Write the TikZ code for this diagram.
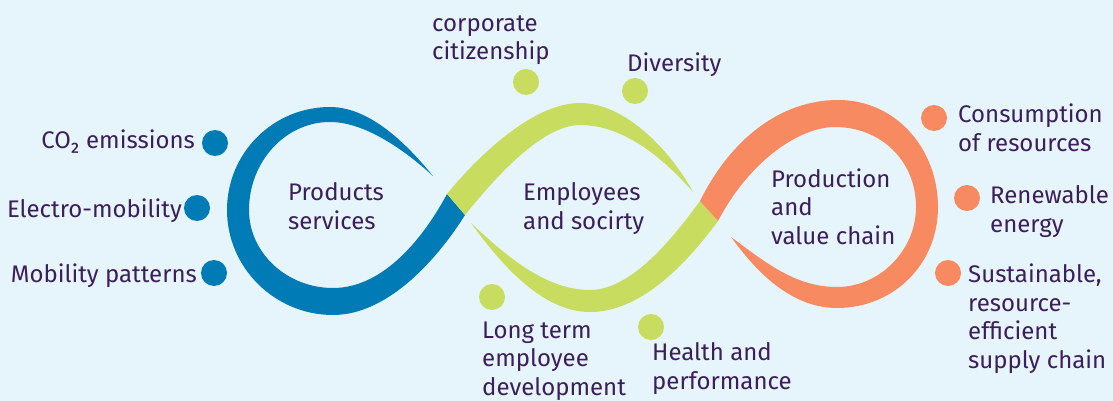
\documentclass[tikz,border=0pt]{standalone}
\usepackage{fontspec}
\setmainfont{Fira Sans}
\definecolor{bgc}{HTML}{E6F5FB}
\definecolor{bluec}{HTML}{007BB5}
\definecolor{greenc}{HTML}{C8DC5F}
\definecolor{orangec}{HTML}{F78A60}
\definecolor{txtc}{HTML}{3B1E5A}
\begin{document}
\begin{tikzpicture}[x=1pt,y=-1pt,
  lbl/.style={text=txtc, font=\fontsize{24}{28.5}\selectfont, inner sep=0pt, align=left, anchor=base west},
  lblr/.style={lbl, align=right, anchor=base east},
  dot/.style={circle, minimum size=26pt, inner sep=0pt}]
\fill[bgc] (0,0) rectangle (1113,401);
\useasboundingbox (0,0) rectangle (1113,401);
% blue loop
\fill[bluec] (433,176) .. controls (410,148) and (372,107) .. (330,107)
 .. controls (273,107) and (227,153) .. (227,210)
 .. controls (227,268) and (275,315) .. (333,315)
 .. controls (390,315) and (440,255) .. (465,215)
 -- (447,194)
 .. controls (425,235) and (385,288) .. (333,288)
 .. controls (287,288) and (249,253) .. (249,210)
 .. controls (249,162) and (285,122) .. (330,122)
 .. controls (368,122) and (410,155) .. (433,176) -- cycle;
% green upper
\fill[greenc] (447,194) .. controls (472,163) and (530,103) .. (580,103)
 .. controls (625,103) and (670,150) .. (693,192)
 .. controls (665,160) and (625,125) .. (580,125)
 .. controls (540,125) and (490,184) .. (465,215) -- cycle;
% green lower
\fill[greenc] (471,223) .. controls (505,270) and (545,312) .. (590,312)
 .. controls (645,312) and (692,256) .. (718,221)
 -- (700,201)
 .. controls (680,228) and (635,290) .. (590,290)
 .. controls (545,290) and (505,255) .. (471,223) -- cycle;
% orange loop
\fill[orangec] (700,201) .. controls (730,140) and (780,100) .. (838,100)
 .. controls (897,100) and (938,150) .. (938,207)
 .. controls (938,265) and (893,308) .. (837,308)
 .. controls (790,308) and (755,270) .. (731,237)
 .. controls (765,262) and (795,287) .. (837,287)
 .. controls (880,287) and (916,250) .. (916,207)
 .. controls (916,160) and (880,127) .. (835,127)
 .. controls (800,127) and (750,160) .. (718,221) -- cycle;
% dots
\node[dot, fill=bluec] (b1) at (215,143) {};
\node[dot, fill=bluec] (b2) at (197,208) {};
\node[dot, fill=bluec] (b3) at (214,273) {};
\node[dot, fill=greenc] (g1) at (526,82) {};
\node[dot, fill=greenc] (g2) at (635,91) {};
\node[dot, fill=greenc] (g3) at (492,297) {};
\node[dot, fill=greenc] (g4) at (651,327) {};
\node[dot, fill=orangec] (o1) at (934,118) {};
\node[dot, fill=orangec] (o2) at (967,198) {};
\node[dot, fill=orangec] (o3) at (948,273) {};
% labels (base = baseline of last line)
\node[lblr] (co2) at (195,149) {CO₂ emissions};
\node[lblr] (elec) at (182,217) {Electro-mobility};
\node[lblr] (mob) at (197,282) {Mobility patterns};
\node[lbl] (prod) at (288,229) {Products\\services};
\node[lbl] (empl) at (523,229) {Employees\\and socirty};
\node[lbl] (pvc) at (771,244) {Production\\and\\value chain};
\node[lbl] (corp) at (432,60) {corporate\\citizenship};
\node[lbl] (div) at (627,72) {Diversity};
\node[lbl] (long) at (482,395) {Long term\\employee\\development};
\node[lbl] (health) at (652,389) {Health and\\performance};
\node[lbl] (cons) at (958,151) {Consumption\\of resources};
\node[lbl] (renew) at (990,232) {Renewable\\energy};
\node[lbl] (sust) at (968,368) {Sustainable,\\resource-\\efficient\\supply chain};
\end{tikzpicture}
\end{document}
